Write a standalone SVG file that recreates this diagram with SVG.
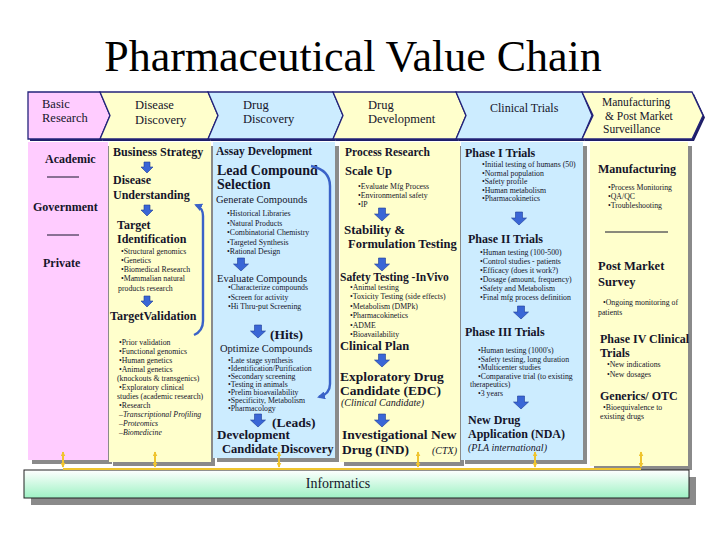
<svg xmlns="http://www.w3.org/2000/svg" width="720" height="540" viewBox="0 0 720 540">
<defs>
<style>
text{font-family:"Liberation Serif","Times New Roman",serif;fill:#15152a}
.ttl{font-size:44px;fill:#000}
.hd{font-size:12.5px}
.hs{font-size:11.5px}
.t{font-weight:bold;font-size:12px}
.b{font-size:7.8px}
.bi{font-size:7.8px;font-style:italic}
.r{font-size:10.5px}
.it{font-size:10px;font-style:italic}
.chev{stroke:#23237a;stroke-width:1.3;stroke-linejoin:miter}
.chs{fill:#1e1e66}
.sh{fill:#8a8a8a}
.pk{fill:#FFCCFF}
.ye{fill:#FFFFCC}
.bl{fill:#CCECFF}
.sep{stroke:#15152a;stroke-width:1}
.gold{stroke:#EFC42E;stroke-width:2;fill:none}
.curve{stroke:#3A62C8;stroke-width:2.4;fill:none}
</style>
<path id="dnS" d="M-3,0 H3 V5 H6 L0,11 L-6,5 H-3 Z" fill="#3A66D6" stroke="#1F3C96" stroke-width="0.6"/>
<path id="dnL" d="M-3.5,0 H3.5 V6 H7.5 L0,13 L-7.5,6 H-3.5 Z" fill="#3A66D6" stroke="#1F3C96" stroke-width="0.6"/>
<marker id="ga" viewBox="0 0 8 8" refX="7" refY="4" markerWidth="5" markerHeight="5" orient="auto-start-reverse" markerUnits="userSpaceOnUse">
<path d="M0,0 L8,4 L0,8 Z" fill="#EFC42E"/>
</marker>
<marker id="ba" viewBox="0 0 8 8" refX="6" refY="4" markerWidth="8" markerHeight="8" orient="auto" markerUnits="userSpaceOnUse">
<path d="M0,0 L8,4 L0,8 Z" fill="#3A62C8"/>
</marker>
<linearGradient id="inf" x1="0" y1="0" x2="0" y2="1">
<stop offset="0" stop-color="#FFFFFF"/>
<stop offset="1" stop-color="#9EF2C4"/>
</linearGradient>
</defs>
<rect width="720" height="540" fill="#FFFFFF"/>
<text class="ttl" x="353" y="71" text-anchor="middle">Pharmaceutical Value Chain</text>

<g id="basic-research">
<polygon class="chs" points="30,94 102,94 112,117.5 102,141 30,141"/>
<polygon class="chev pk" points="28,92 100,92 110,115.5 100,139 28,139"/>
<text class="hd" x="42" y="108">Basic</text>
<text class="hd" x="42" y="122">Research</text>
<rect class="sh" x="32" y="146" width="80" height="318"/>
<rect class="pk" x="28" y="142" width="80" height="318"/>
<text class="t" x="45" y="163">Academic</text>
<line class="sep" x1="47" y1="177" x2="79" y2="177"/>
<text class="t" x="33" y="211">Government</text>
<line class="sep" x1="47" y1="235" x2="79" y2="235"/>
<text class="t" x="43" y="267">Private</text>
</g>

<g id="disease-discovery">
<polygon class="chs" points="102,94 210,94 220,117.5 210,141 102,141 112,117.5"/>
<polygon class="chev ye" points="100,92 208,92 218,115.5 208,139 100,139 110,115.5"/>
<text class="hd" x="135" y="109">Disease</text>
<text class="hd" x="135" y="124">Discovery</text>
<rect class="sh" x="113" y="146" width="102" height="320"/>
<rect class="ye" x="109" y="142" width="102" height="320"/>
<text class="t" x="113" y="156">Business Strategy</text>
<use href="#dnS" x="147" y="162"/>
<text class="t" x="113" y="184">Disease</text>
<text class="t" x="113" y="199">Understanding</text>
<use href="#dnS" x="147" y="205"/>
<text class="t" x="117" y="229">Target</text>
<text class="t" x="117" y="243">Identification</text>
<text class="b" x="121" y="253.5">•Structural genomics</text>
<text class="b" x="121" y="262.5">•Genetics</text>
<text class="b" x="121" y="271.5">•Biomedical Research</text>
<text class="b" x="121" y="280.5">•Mammalian natural</text>
<text class="b" x="118" y="291">products research</text>
<use href="#dnS" x="147" y="296"/>
<text class="t" x="110" y="320">TargetValidation</text>
<text class="b" x="119" y="345">•Prior validation</text>
<text class="b" x="119" y="354">•Functional genomics</text>
<text class="b" x="119" y="363">•Human genetics</text>
<text class="b" x="119" y="372">•Animal genetics</text>
<text class="b" x="117" y="381">(knockouts &amp; transgenics)</text>
<text class="b" x="119" y="390">•Exploratory clinical</text>
<text class="b" x="117" y="399">studies (academic research)</text>
<text class="b" x="119" y="408">•Research</text>
<text class="bi" x="119" y="417">–Transcriptional Profiling</text>
<text class="bi" x="119" y="426">–Proteomics</text>
<text class="bi" x="119" y="435">–Biomedicine</text>
<path class="curve" d="M194,335 Q203,331 203,321 V216 Q203,208 196,205" marker-end="url(#ba)"/>
</g>

<g id="drug-discovery">
<polygon class="chs" points="210,94 335,94 345,117.5 335,141 210,141 220,117.5"/>
<polygon class="chev bl" points="208,92 333,92 343,115.5 333,139 208,139 218,115.5"/>
<text class="hd" x="243" y="109">Drug</text>
<text class="hd" x="243" y="123">Discovery</text>
<rect class="sh" x="217" y="146" width="122" height="316"/>
<rect class="bl" x="213" y="142" width="122" height="316"/>
<text class="t" x="216" y="155" style="font-size:11.5px">Assay Development</text>
<text class="t" x="217" y="175" style="font-size:14px">Lead Compound</text>
<text class="t" x="217" y="189" style="font-size:14px">Selection</text>
<text class="r" x="216" y="203">Generate Compounds</text>
<text class="b" x="227" y="216">•Historical Libraries</text>
<text class="b" x="227" y="225.5">•Natural Products</text>
<text class="b" x="227" y="235">•Combinatorial Chemistry</text>
<text class="b" x="227" y="244.5">•Targeted Synthesis</text>
<text class="b" x="227" y="254">•Rational Design</text>
<use href="#dnL" x="241" y="258"/>
<text class="r" x="217" y="282">Evaluate Compounds</text>
<text class="b" x="228" y="290">•Characterize compounds</text>
<text class="b" x="228" y="299.5">•Screen for activity</text>
<text class="b" x="228" y="309">•Hi Thru-put Screening</text>
<use href="#dnL" x="258" y="325"/>
<text class="t" x="270" y="339" style="font-size:13.5px">(Hits)</text>
<text class="r" x="220" y="352">Optimize Compounds</text>
<text class="b" x="228" y="363">•Late stage synthesis</text>
<text class="b" x="228" y="371">•Identification/Purification</text>
<text class="b" x="228" y="379">•Secondary screening</text>
<text class="b" x="228" y="387">•Testing in animals</text>
<text class="b" x="228" y="395">•Prelim bioavailability</text>
<text class="b" x="228" y="403">•Specificity, Metabolism</text>
<text class="b" x="228" y="411">•Pharmacology</text>
<use href="#dnL" x="258" y="414"/>
<text class="t" x="272" y="426.5" style="font-size:13.5px">(Leads)</text>
<text class="t" x="217" y="439" style="font-size:13px">Development</text>
<text class="t" x="222" y="453" style="font-size:12.5px">Candidate Discovery</text>
<path class="curve" d="M311,166 Q330,170 330,186 V384 Q330,394 319,397" marker-end="url(#ba)"/>
</g>

<g id="drug-development">
<polygon class="chs" points="335,94 458,94 468,117.5 458,141 335,141 345,117.5"/>
<polygon class="chev ye" points="333,92 456,92 466,115.5 456,139 333,139 343,115.5"/>
<text class="hd" x="368" y="109">Drug</text>
<text class="hd" x="368" y="123">Development</text>
<rect class="sh" x="344" y="146" width="120" height="320"/>
<rect class="ye" x="340" y="142" width="120" height="320"/>
<text class="t" x="345" y="156" style="font-size:11.5px">Process Research</text>
<text class="t" x="345" y="175" style="font-size:12.5px">Scale Up</text>
<text class="b" x="358" y="188.5">•Evaluate Mfg Process</text>
<text class="b" x="358" y="197.5">•Environmental safety</text>
<text class="b" x="358" y="206.5">•IP</text>
<use href="#dnL" x="382" y="208"/>
<text class="t" x="344" y="233.5" style="font-size:13px">Stability &amp;</text>
<text class="t" x="348" y="247.5" style="font-size:12.5px">Formulation Testing</text>
<use href="#dnL" x="382" y="258"/>
<text class="t" x="340" y="281" style="font-size:11.5px">Safety Testing -InVivo</text>
<text class="b" x="350" y="289.5">•Animal testing</text>
<text class="b" x="350" y="299">•Toxicity Testing (side effects)</text>
<text class="b" x="350" y="308.5">•Metabolism  (DMPk)</text>
<text class="b" x="350" y="318">•Pharmacokinetics</text>
<text class="b" x="350" y="327.5">•ADME</text>
<text class="b" x="350" y="337">•Bioavailability</text>
<text class="t" x="340" y="350" style="font-size:12.5px">Clinical Plan</text>
<use href="#dnL" x="382" y="354"/>
<text class="t" x="340" y="380.5" style="font-size:13.5px">Exploratory Drug</text>
<text class="t" x="340" y="394.5" style="font-size:13.5px">Candidate (EDC)</text>
<text class="it" x="341" y="406">(Clinical Candidate)</text>
<use href="#dnL" x="382" y="414"/>
<text class="t" x="342" y="438.5" style="font-size:13.5px">Investigational New</text>
<text class="t" x="342" y="453.5" style="font-size:13.5px">Drug (IND)</text>
<text class="it" x="432" y="453.5">(CTX)</text>
</g>

<g id="clinical-trials">
<polygon class="chs" points="458,94 584,94 594,117.5 584,141 458,141 468,117.5"/>
<polygon class="chev bl" points="456,92 582,92 592,115.5 582,139 456,139 466,115.5"/>
<text class="hd" x="490" y="112" style="font-size:12px">Clinical Trials</text>
<rect class="sh" x="465" y="146" width="122" height="318"/>
<rect class="bl" x="461" y="142" width="122" height="318"/>
<text class="t" x="465" y="156.5">Phase I Trials</text>
<text class="b" x="482" y="167">•Initial testing of humans (50)</text>
<text class="b" x="482" y="175.5">•Normal population</text>
<text class="b" x="482" y="184">•Safety profile</text>
<text class="b" x="482" y="192.5">•Human metabolism</text>
<text class="b" x="482" y="201">•Pharmacokinetics</text>
<use href="#dnL" x="519" y="212"/>
<text class="t" x="468" y="242.5">Phase II Trials</text>
<text class="b" x="480" y="254.5">•Human testing (100-500)</text>
<text class="b" x="480" y="263.5">•Control studies - patients</text>
<text class="b" x="480" y="272.5">•Efficacy (does it work?)</text>
<text class="b" x="480" y="282">•Dosage (amount, frequency)</text>
<text class="b" x="480" y="291">•Safety and Metabolism</text>
<text class="b" x="480" y="300">•Final mfg process definition</text>
<use href="#dnL" x="521" y="306"/>
<text class="t" x="465" y="335.5">Phase III Trials</text>
<text class="b" x="478" y="353">•Human testing (1000's)</text>
<text class="b" x="478" y="361.5">•Safety testing, long duration</text>
<text class="b" x="478" y="370">•Multicenter studies</text>
<text class="b" x="478" y="378.5">•Comparative trial (to existing</text>
<text class="b" x="470" y="387">therapeutics)</text>
<text class="b" x="478" y="395.5">•3 years</text>
<use href="#dnL" x="521" y="396"/>
<text class="t" x="468" y="423.5" style="font-size:12px">New Drug</text>
<text class="t" x="468" y="438" style="font-size:12px">Application (NDA)</text>
<text class="it" x="468" y="451">(PLA international)</text>
</g>

<g id="manufacturing">
<polygon class="chs" points="584,94 694,94 705,117.5 694,141 584,141 595,117.5"/>
<polygon class="chev ye" points="582,92 692,92 703,115.5 692,139 582,139 593,115.5"/>
<text class="hs" x="602" y="106">Manufacturing</text>
<text class="hs" x="605" y="120">&amp; Post Market</text>
<text class="hs" x="603" y="133">Surveillance</text>
<rect class="sh" x="594" y="146" width="98" height="324"/>
<rect class="ye" x="590" y="142" width="98" height="324"/>
<text class="t" x="598" y="172.5">Manufacturing</text>
<text class="b" x="608" y="189.5">•Process Monitoring</text>
<text class="b" x="608" y="198.5">•QA/QC</text>
<text class="b" x="608" y="207.5">•Troubleshooting</text>
<line class="sep" x1="605" y1="232" x2="668" y2="232"/>
<text class="t" x="598" y="270" style="font-size:12.5px">Post Market</text>
<text class="t" x="598" y="286" style="font-size:12.5px">Survey</text>
<text class="b" x="603" y="304.5">•Ongoing monitoring of</text>
<text class="b" x="598" y="314.5">patients</text>
<text class="t" x="600" y="342.5">Phase IV Clinical</text>
<text class="t" x="600" y="356.5">Trials</text>
<text class="b" x="607" y="366.5">•New indications</text>
<text class="b" x="607" y="376.5">•New dosages</text>
<text class="t" x="600" y="399.5">Generics/ OTC</text>
<text class="b" x="603" y="409.5">•Bioequivalence to</text>
<text class="b" x="600" y="418.5">existing drugs</text>
</g>

<g id="informatics">
<rect class="sh" x="31" y="477" width="665" height="28" fill="#a0a0a0"/>
<rect x="24" y="470" width="665" height="28" fill="url(#inf)" stroke="#222" stroke-width="1"/>
<text x="338" y="488" text-anchor="middle" style="font-size:14px">Informatics</text>
</g>

<g id="connectors">
<line class="gold" x1="63" y1="469" x2="641" y2="469"/>
<line class="gold" x1="63" y1="452" x2="63" y2="467" marker-start="url(#ga)" marker-end="url(#ga)"/>
<line class="gold" x1="155" y1="452" x2="155" y2="467" marker-start="url(#ga)" marker-end="url(#ga)"/>
<line class="gold" x1="279" y1="452" x2="279" y2="467" marker-start="url(#ga)" marker-end="url(#ga)"/>
<line class="gold" x1="418" y1="452" x2="418" y2="467" marker-start="url(#ga)" marker-end="url(#ga)"/>
<line class="gold" x1="535" y1="452" x2="535" y2="467" marker-start="url(#ga)" marker-end="url(#ga)"/>
<line class="gold" x1="641" y1="452" x2="641" y2="467" marker-start="url(#ga)" marker-end="url(#ga)"/>
</g>
</svg>
